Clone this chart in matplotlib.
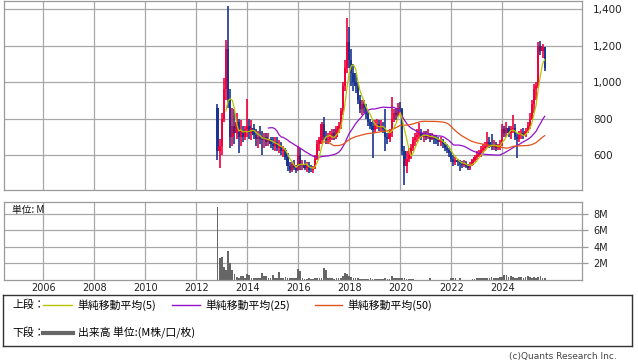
import matplotlib
matplotlib.use("Agg")
import matplotlib.pyplot as plt
import numpy as np
import pandas as pd

plt.rcParams['font.family'] = ['DejaVu Sans', 'Noto Sans CJK JP']
JP = ['Noto Sans CJK JP', 'DejaVu Sans']

# monthly candles, Nov 2012 .. Sep 2025
months = pd.date_range('2012-11-01', '2025-09-01', freq='MS')

open_ = [860, 620,
         650, 800, 960, 1180, 900, 700, 760, 720, 780, 700, 730, 700,
         740, 760, 720, 750, 710, 690, 700, 690, 680, 700, 670, 690,
         660, 650, 670, 640, 650, 620, 630, 590, 540, 520, 550, 530,
         520, 600, 540, 550, 530, 540, 520, 515, 530, 580, 660, 680,
         770, 700, 680, 690, 700, 720, 700, 740, 760, 840, 980, 1080,
         1220, 1120, 1050, 1000, 980, 900, 850, 880, 860, 825, 780, 760,
         735, 760, 770, 750, 760, 740, 700, 690, 720, 800, 830, 820,
         860, 850, 620, 540, 580, 600, 640, 680, 700, 710, 720, 700,
         710, 700, 710, 690, 700, 690, 680, 670, 680, 660, 640, 630,
         610, 580, 560, 570, 560, 550, 545, 555, 540, 530, 545, 570,
         590, 600, 610, 630, 640, 650, 670, 650, 645, 660, 640, 645,
         660, 740, 720, 750, 720, 740, 750, 700, 690, 710, 720, 710,
         730, 760, 800, 880, 960, 980, 1200, 1170, 1190]
high = [880, 690,
        830, 1020, 1230, 1420, 960, 860, 850, 830, 800, 790, 760, 760,
        910, 800, 790, 770, 740, 730, 760, 730, 720, 720, 720, 700,
        700, 700, 700, 680, 670, 650, 640, 610, 560, 560, 570, 545,
        650, 640, 570, 575, 560, 560, 545, 540, 600, 680, 700, 780,
        810, 730, 720, 730, 740, 740, 760, 780, 860, 1000, 1120, 1350,
        1300, 1180, 1100, 1050, 1000, 930, 900, 900, 880, 840, 800, 790,
        790, 800, 790, 790, 780, 850, 720, 740, 920, 850, 860, 885,
        890, 860, 650, 620, 640, 660, 700, 720, 740, 775, 740, 730,
        730, 740, 720, 720, 710, 710, 700, 700, 690, 670, 660, 640,
        620, 600, 590, 580, 575, 565, 570, 565, 550, 560, 580, 600,
        620, 630, 650, 660, 670, 726, 700, 715, 680, 670, 660, 680,
        770, 760, 780, 760, 760, 820, 770, 720, 730, 740, 750, 750,
        780, 830, 900, 990, 1000, 1220, 1225, 1210, 1195]
low = [575, 530,
       600, 780, 900, 860, 640, 650, 660, 690, 610, 650, 670, 680,
       700, 690, 680, 690, 650, 640, 660, 600, 640, 650, 650, 640,
       630, 620, 620, 610, 600, 590, 570, 510, 500, 505, 520, 500,
       510, 520, 520, 520, 505, 500, 505, 500, 525, 570, 620, 660,
       680, 660, 660, 670, 680, 680, 690, 720, 740, 820, 950, 1050,
       1080, 980, 950, 940, 880, 830, 820, 830, 800, 760, 740, 585,
       720, 740, 730, 730, 720, 620, 660, 670, 700, 780, 790, 810,
       820, 600, 436, 500, 560, 580, 620, 650, 670, 690, 680, 670,
       680, 690, 670, 680, 660, 660, 650, 650, 640, 620, 610, 590,
       560, 540, 545, 540, 510, 530, 535, 530, 515, 520, 540, 560,
       570, 590, 590, 610, 620, 640, 640, 630, 630, 620, 625, 630,
       650, 700, 700, 700, 690, 720, 680, 585, 670, 690, 690, 700,
       720, 740, 790, 830, 900, 970, 1150, 1130, 1060]
close = [620, 650,
         800, 960, 1180, 900, 700, 760, 720, 780, 700, 730, 700, 740,
         760, 720, 750, 710, 690, 700, 690, 680, 700, 670, 690, 660,
         650, 670, 640, 650, 620, 630, 590, 540, 520, 550, 530, 520,
         600, 540, 550, 530, 540, 520, 515, 530, 580, 660, 680, 770,
         700, 680, 690, 700, 720, 700, 740, 760, 840, 980, 1080, 1220,
         1120, 1050, 1000, 980, 900, 850, 880, 860, 825, 780, 760, 735,
         760, 770, 750, 760, 740, 700, 690, 720, 800, 830, 820, 860,
         850, 620, 540, 580, 600, 640, 680, 700, 710, 720, 700, 710,
         700, 710, 690, 700, 690, 680, 670, 680, 660, 640, 630, 610,
         580, 560, 570, 560, 550, 545, 555, 540, 530, 545, 570, 590,
         600, 610, 630, 640, 650, 670, 650, 645, 660, 640, 645, 660,
         740, 720, 750, 720, 740, 750, 700, 690, 710, 720, 710, 730,
         760, 800, 880, 960, 980, 1200, 1170, 1190, 1080]
volume = [8.8, 2.6,
          2.8, 1.6, 1.2, 3.5, 2.0, 1.2, 0.75, 0.4, 0.3, 0.5, 0.5, 0.3,
          0.75, 0.6, 0.3, 0.25, 0.25, 0.2, 0.3, 0.9, 0.5, 0.45, 0.3, 0.3,
          0.6, 0.3, 0.3, 1.0, 0.3, 0.25, 0.4, 0.3, 0.2, 0.25, 0.25, 0.3,
          1.3, 1.1, 0.2, 0.15, 0.15, 0.2, 0.15, 0.15, 0.2, 0.3, 0.25, 0.3,
          1.5, 1.2, 0.3, 0.2, 0.2, 0.15, 0.2, 0.25, 0.3, 0.5, 0.9, 0.75,
          0.5, 0.35, 0.3, 0.2, 0.2, 0.15, 0.15, 0.15, 0.15, 0.15, 0.2, 0.15,
          0.15, 0.1, 0.1, 0.1, 0.15, 0.2, 0.15, 0.15, 0.45, 0.3, 0.2, 0.25,
          0.2, 0.2, 0.25, 0.15, 0.1, 0.1, 0.1, 0.05, 0.05, 0.05, 0.05, 0.05,
          0.05, 0.05, 0.2, 0.05, 0.05, 0.05, 0.05, 0.05, 0.05, 0.05, 0.05, 0.05,
          0.25, 0.25, 0.2, 0.05, 0.2, 0.05, 0.05, 0.05, 0.05, 0.05, 0.15, 0.15,
          0.2, 0.2, 0.3, 0.25, 0.3, 0.3, 0.3, 0.35, 0.3, 0.25, 0.2, 0.35,
          0.35, 0.6, 0.55, 0.4, 0.5, 0.4, 0.3, 0.25, 0.35, 0.4, 0.25, 0.4,
          0.5, 0.35, 0.25, 0.4, 0.3, 0.35, 0.45, 0.3, 0.3]

year_ticks = [2006, 2008, 2010, 2012, 2014, 2016, 2018, 2020, 2022, 2024]
price_ticks = [600, 800, 1000, 1200, 1400]
vol_ticks = [2, 4, 6, 8]

df = pd.DataFrame({'o': open_, 'h': high, 'l': low, 'c': close, 'v': volume}, index=months)
df['t'] = df.index.year + (df.index.month - 1) / 12
ma5 = df['c'].rolling(5).mean()
ma25 = df['c'].rolling(25).mean()
ma50 = df['c'].rolling(50).mean()

RED = '#f0003c'
BLUE = '#1a3590'
GRID = '#a8a8a8'
FRAME = '#9a9a9a'
W, H = 638, 362

fig = plt.figure(figsize=(W / 100, H / 100), dpi=100)
ax = fig.add_axes([4 / W, 1 - 190 / H, 578 / W, 189 / H])
axv = fig.add_axes([4 / W, 1 - 280 / H, 578 / W, 78 / H])

up = df['c'] >= df['o']
colors = np.where(up, RED, BLUE)
ax.vlines(df['t'], df['l'], df['h'], colors=colors, lw=1.2, zorder=2)
ax.bar(df['t'], (df['c'] - df['o']).abs().clip(lower=4), bottom=df[['o', 'c']].min(axis=1),
       width=0.09, color=colors, lw=0, zorder=2)
ax.plot(df['t'], ma25, color='#9410c8', lw=0.9, zorder=3)
ax.plot(df['t'], ma50, color='#e0521a', lw=0.9, zorder=3)
ax.plot(df['t'], ma5, color='#b9c400', lw=0.9, zorder=4)

ax.set_xlim(2004.46, 2027.13)
ax.set_ylim(408, 1445)
ax.yaxis.tick_right()
ax.set_yticks(price_ticks)
ax.set_yticklabels([f'{v:,}' for v in price_ticks])
ax.set_xticks(year_ticks)
ax.tick_params(axis='x', length=0, labelbottom=False)
ax.tick_params(axis='y', length=0, pad=8, labelsize=7.5, labelcolor='#222')
ax.grid(True, color=GRID, lw=0.9)
ax.set_axisbelow(True)

axv.bar(df['t'], df['v'], width=0.07, color='#666666', lw=0, zorder=2)
axv.set_xlim(2004.46, 2027.13)
axv.set_ylim(0, 9.4)
axv.yaxis.tick_right()
axv.set_yticks(vol_ticks)
axv.set_yticklabels([f'{v}M' for v in vol_ticks])
axv.set_xticks(year_ticks)
axv.set_xticklabels([str(y) for y in year_ticks])
axv.tick_params(axis='x', length=0, pad=2, labelsize=7, labelcolor='#222')
axv.tick_params(axis='y', length=4, width=0.9, color=FRAME, pad=4, labelsize=7, labelcolor='#222')
axv.grid(True, color=GRID, lw=0.9)
axv.set_axisbelow(True)

for a in (ax, axv):
    for s in a.spines.values():
        s.set_color(FRAME)
        s.set_linewidth(0.9)

fig.text(12 / W, 1 - 210 / H, '単位: M', family=JP, fontsize=7, va='center', color='#111')

# legend box drawn in pixel coordinates
lg = fig.add_axes([3 / W, 1 - 346 / H, 629 / W, 51 / H])
lg.set_xlim(3, 632)
lg.set_ylim(346, 295)
lg.set_xticks([])
lg.set_yticks([])
for s in lg.spines.values():
    s.set_color('#333333')
    s.set_linewidth(1)

r1, r2 = 305, 333
fs = 7.8
lg.text(12, r1, '上段：', family=JP, fontsize=fs, va='center')
lg.plot([43, 72], [r1, r1], color='#b9c400', lw=1)
lg.text(77, r1, '単純移動平均(5)', family=JP, fontsize=fs, va='center')
lg.plot([172, 200], [r1, r1], color='#9410c8', lw=1)
lg.text(205, r1, '単純移動平均(25)', family=JP, fontsize=fs, va='center')
lg.plot([315, 342], [r1, r1], color='#e0521a', lw=1)
lg.text(347, r1, '単純移動平均(50)', family=JP, fontsize=fs, va='center')
lg.text(12, r2, '下段：', family=JP, fontsize=fs, va='center')
lg.plot([43, 73], [r2, r2], color='#666666', lw=3)
lg.text(78, r2, '出来高 単位:(M株/口/枚)', family=JP, fontsize=fs, va='center')

fig.text(617 / W, 1 - 356 / H, '(c)Quants Research Inc.', fontsize=6.5, ha='right', va='center', color='#444')

fig.savefig('out.png', dpi=100)
